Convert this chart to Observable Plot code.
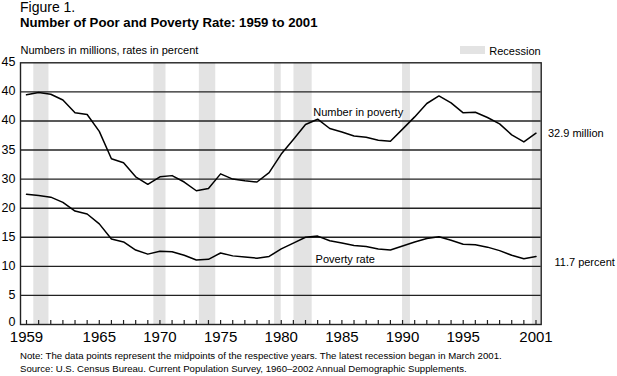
<!DOCTYPE html>
<html><head><meta charset="utf-8">
<script src="https://cdn.jsdelivr.net/npm/d3@7"></script>
<script src="https://cdn.jsdelivr.net/npm/@observablehq/plot@0.6"></script>
<style>
body{margin:0;background:#fff;font-family:"Liberation Sans",Arial,sans-serif;color:#000}
#wrap{position:relative;width:617px;height:376px;overflow:hidden}
#chart{position:absolute;left:0;top:0}
.t{position:absolute;white-space:nowrap;line-height:1;z-index:2}
#swatch{position:absolute;left:460px;top:45.7px;width:25px;height:8.6px;background:#e3e3e3}
</style></head><body>
<div id="wrap">
  <div id="chart"></div>
  <div class="t" style="left:20px;top:0px;font-size:14px">Figure 1.</div>
  <div class="t" style="left:20px;top:15.5px;font-size:13.2px;font-weight:bold">Number of Poor and Poverty Rate: 1959 to 2001</div>
  <div class="t" style="left:20.5px;top:45px;font-size:11px">Numbers in millions, rates in percent</div>
  <div id="swatch"></div>
  <div class="t" style="left:489.3px;top:45.7px;font-size:11px">Recession</div>
  <div class="t" style="left:20px;top:351px;font-size:9.65px">Note: The data points represent the midpoints of the respective years. The latest recession began in March 2001.</div>
  <div class="t" style="left:20px;top:364px;font-size:9.6px">Source: U.S. Census Bureau. Current Population Survey, 1960–2002 Annual Demographic Supplements.</div>
</div>
<script>
const years = [1959,1960,1961,1962,1963,1964,1965,1966,1967,1968,1969,1970,1971,1972,1973,1974,1975,1976,1977,1978,1979,1980,1981,1982,1983,1984,1985,1986,1987,1988,1989,1990,1991,1992,1993,1994,1995,1996,1997,1998,1999,2000,2001];
const numberInPoverty = [39.5,39.9,39.6,38.6,36.4,36.1,33.2,28.5,27.8,25.4,24.1,25.4,25.6,24.5,23.0,23.4,25.9,25.0,24.7,24.5,26.1,29.3,31.8,34.4,35.3,33.7,33.1,32.4,32.2,31.7,31.5,33.6,35.7,38.0,39.3,38.1,36.4,36.5,35.6,34.5,32.6,31.4,32.9];
const povertyRate = [22.4,22.2,21.9,21.0,19.5,19.0,17.3,14.7,14.2,12.8,12.1,12.6,12.5,11.9,11.1,11.2,12.3,11.8,11.6,11.4,11.7,13.0,14.0,15.0,15.2,14.4,14.0,13.6,13.4,13.0,12.8,13.5,14.2,14.8,15.1,14.5,13.8,13.7,13.3,12.7,11.9,11.3,11.7];
const recessionStart = [1959.6,1969.5,1973.25,1979.45,1981.05,1990.0,2000.7];
const recessionEnd = [1960.85,1970.5,1974.6,1980.0,1982.55,1990.65,2001.43];
const yTickValues = [5,10,15,20,25,30,35,40,45];
const yTickLabels = ["5","10","15","20","30","35","40","40","45"];
const yZeroTick = [0];
const gridValues = [5,10,15,20,25,30,35,40];
const xLabelYears = [1959,1965,1970,1975,1980,1985,1990,1995,2001];
const seriesLabels = [
  {text:"Number in poverty", year:1982.64, value:36.4},
  {text:"Poverty rate", year:1982.83, value:11.17}
];
const endLabels = [
  {text:"32.9 million", year:2001, value:32.9, dx:12, dy:0},
  {text:"11.7 percent", year:2001, value:11.7, dx:18.5, dy:5.7}
];

const rows = years.map((y,i)=>({year:y, number:numberInPoverty[i], rate:povertyRate[i]}));
const recessions = recessionStart.map((s,i)=>({start:s, end:recessionEnd[i]}));

const W = 617, H = 376, mT = 62.3, mB = 52, mL = 20, mR = 76.3;
const innerH = H - mT - mB;
const ink = "#222";

const chart = Plot.plot({
  width: W, height: H,
  marginTop: mT, marginBottom: mB, marginLeft: mL, marginRight: mR,
  style: {fontFamily: "'Liberation Sans', Arial, sans-serif", fontSize: "11px", background: "transparent", overflow: "visible"},
  x: {domain: [1958.505, 2001.43]},
  y: {domain: [0, 45]},
  marks: [
    Plot.rect(recessions, {x1: "start", x2: "end", fill: "#e3e3e3"}),
    Plot.ruleY(gridValues, {stroke: ink, strokeWidth: 1.4}),
    Plot.frame({stroke: ink, strokeWidth: 1.4}),
    Plot.ruleX(years, {x: d => d, insetTop: innerH - 4, stroke: ink, strokeWidth: 1.2}),
    Plot.axisY(yTickValues, {anchor: "left", tickSize: 0, tickPadding: 5, fontSize: 12.5, dy: -0.5, label: null,
      tickFormat: d => yTickLabels[yTickValues.indexOf(d)]}),
    Plot.axisY(yZeroTick, {anchor: "left", tickSize: 0, tickPadding: 5, fontSize: 12.5, dy: -3, label: null,
      tickFormat: d => String(d)}),
    Plot.axisX(xLabelYears, {anchor: "bottom", tickSize: 0, tickPadding: 7, fontSize: 15, label: null,
      tickFormat: d => String(d)}),
    Plot.line(rows, {x: "year", y: "number", stroke: "#000", strokeWidth: 1.5}),
    Plot.line(rows, {x: "year", y: "rate", stroke: "#000", strokeWidth: 1.5}),
    Plot.text(seriesLabels, {x: "year", y: "value", text: "text", textAnchor: "start", fontSize: 11, fill: "#000"}),
    ...endLabels.map(d => Plot.text([d], {x: "year", y: "value", text: "text", textAnchor: "start", fontSize: 11, fill: "#000", dx: d.dx, dy: d.dy}))
  ]
});
document.getElementById("chart").appendChild(chart);
</script>
</body></html>
